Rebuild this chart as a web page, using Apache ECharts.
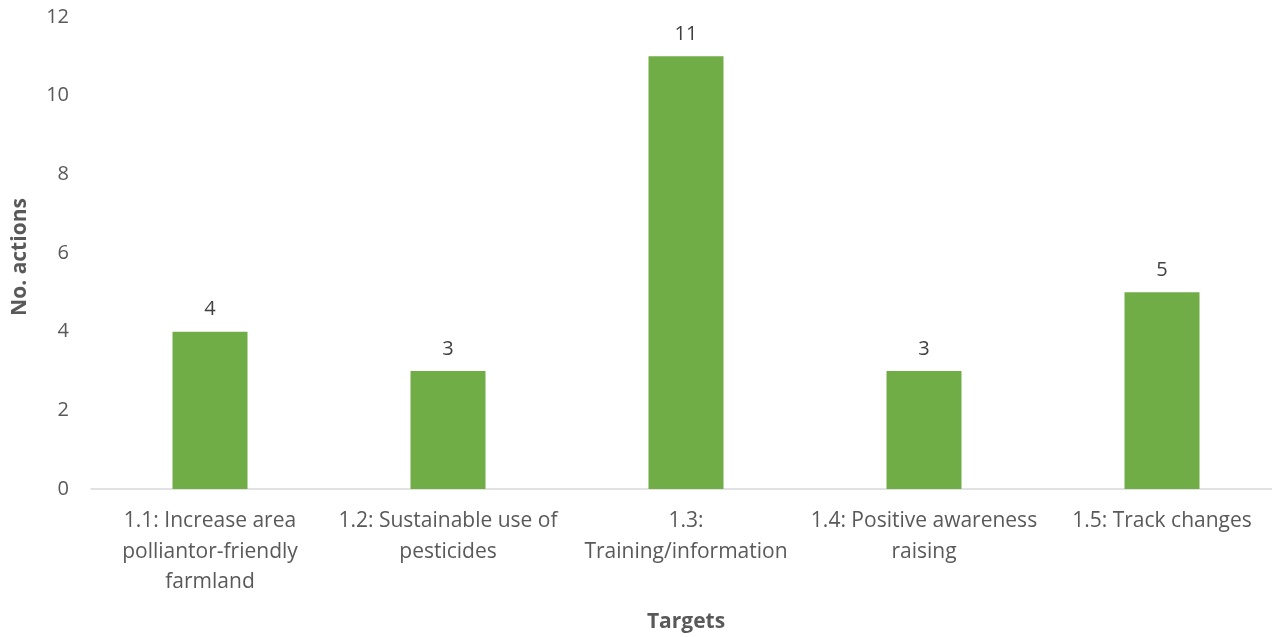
<!DOCTYPE html>
<html><head><meta charset="utf-8">
<script src="https://cdn.jsdelivr.net/npm/echarts@6/dist/echarts.min.js"></script>
<style>html,body{margin:0;padding:0;background:#fff}#c{width:1272px;height:637px}</style>
</head><body><div id="c"></div>
<script>
const categories = ["1.1: Increase area\npolliantor-friendly\nfarmland","1.2: Sustainable use of\npesticides","1.3:\nTraining/information","1.4: Positive awareness\nraising","1.5: Track changes"];
const values = [4,3,11,3,5];
const yTicks = {min:0,max:12,interval:2};
const chart = echarts.init(document.getElementById('c'));
const font = '"Open Sans", sans-serif';
chart.setOption({
  animation:false,
  grid:{left:91,right:-9,top:17,bottom:148,outerBoundsMode:'none',containLabel:false},
  xAxis:{type:'category',data:categories,
    name:'Targets',nameLocation:'middle',nameGap:123,
    nameTextStyle:{fontFamily:font,fontSize:21,fontWeight:'bold',color:'#595959'},
    axisLine:{lineStyle:{color:'#d9d9d9',width:1.5}},axisTick:{show:false},
    axisLabel:{interval:0,fontFamily:font,fontSize:21,color:'#595959',lineHeight:30.5,margin:17}},
  yAxis:{type:'value',min:yTicks.min,max:yTicks.max,interval:yTicks.interval,
    name:'No. actions',nameLocation:'middle',nameGap:60,nameTextStyle:{fontFamily:font,fontSize:21,fontWeight:'bold',color:'#595959',padding:[0,8,0,0]},
    splitLine:{show:false},axisLine:{show:false},axisTick:{show:false},
    axisLabel:{fontFamily:font,fontSize:20,color:'#595959',margin:22}},
  series:[{type:'bar',data:values,barWidth:75,itemStyle:{color:'#70AD47'},
    label:{show:true,position:'top',distance:12,fontFamily:font,fontSize:20,color:'#404040'}}]
});
</script></body></html>
